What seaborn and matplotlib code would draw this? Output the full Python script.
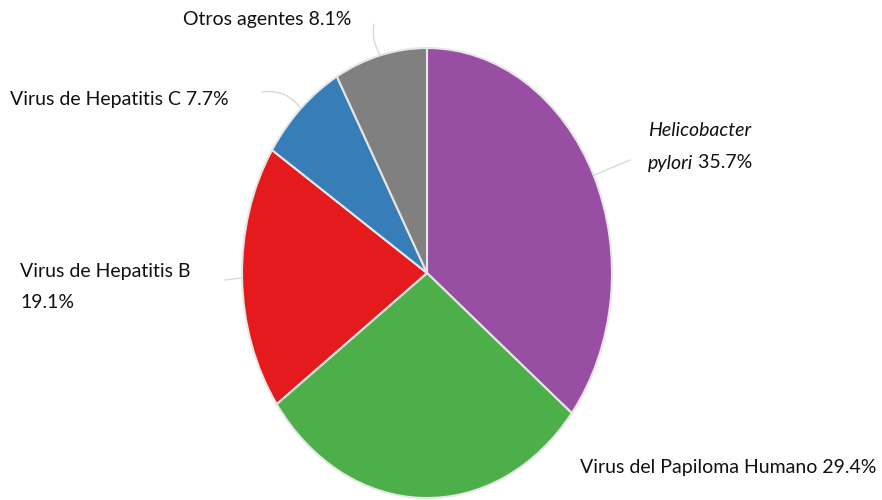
import numpy as np
import matplotlib
matplotlib.use("Agg")
import matplotlib.pyplot as plt
import seaborn as sns

sns.set_theme(style="white")
plt.rcParams['font.family'] = ['Lato', 'DejaVu Sans']

categories = ["Helicobacter pylori", "Virus del Papiloma Humano", "Virus de Hepatitis B",
              "Virus de Hepatitis C", "Otros agentes"]
values = [35.7, 29.4, 19.1, 7.7, 8.1]
colors = ["#984ea3", "#4daf4a", "#e41a1c", "#377eb8", "#808080"]

fig = plt.figure(figsize=(8.82, 5.0), dpi=100)
W, H = 882, 500
CX, CY, RX, RY = 427, 273, 185, 225
# axes exactly covering the (stretched) pie
ax = fig.add_axes([(CX - RX) / W, (H - CY - RY) / H, 2 * RX / W, 2 * RY / H])
wedges, _ = ax.pie(values, colors=colors, startangle=90, counterclock=False,
                   wedgeprops=dict(edgecolor="#e6e6e6", linewidth=1.5))
ax.set_aspect("auto")
ax.set_xlim(-1, 1)
ax.set_ylim(-1, 1)
ax.axis("off")

def px2data(px, py):
    return ((px - CX) / float(RX), (CY - py) / float(RY))

def edge_point(w, r=1.0):
    a = np.deg2rad((w.theta1 + w.theta2) / 2)
    return (r * np.cos(a), r * np.sin(a))

fs = 14
tc = "#111111"
line_kw = dict(arrowstyle="-", color="#d9d9d9", lw=1.0, shrinkA=0, shrinkB=0)

# Helicobacter pylori
ax.annotate("", xy=edge_point(wedges[0]), xytext=px2data(630, 160),
            arrowprops=line_kw, annotation_clip=False)
ax.text(*px2data(648, 130), "Helicobacter", fontsize=fs, style="italic",
        ha="left", va="center", color=tc)
t = ax.text(*px2data(648, 163), "pylori", fontsize=fs, style="italic",
            ha="left", va="center", color=tc)
ax.annotate(" 35.7%", xy=(1, 0), xycoords=t, va="bottom", ha="left",
            fontsize=fs, color=tc)

# VPH
ax.text(*px2data(580, 467), "Virus del Papiloma Humano 29.4%", fontsize=fs,
        ha="left", va="center", color=tc)

# Hep B
ax.annotate("", xy=edge_point(wedges[2]), xytext=px2data(225, 280),
            arrowprops=line_kw, annotation_clip=False)
ax.text(*px2data(20, 271), "Virus de Hepatitis B", fontsize=fs,
        ha="left", va="center", color=tc)
ax.text(*px2data(20, 302), "19.1%", fontsize=fs,
        ha="left", va="center", color=tc)

# Hep C
ax.annotate("", xy=edge_point(wedges[3]), xytext=px2data(262, 92),
            arrowprops=dict(line_kw, connectionstyle="arc3,rad=-0.3"),
            annotation_clip=False)
ax.text(*px2data(10, 100), "Virus de Hepatitis C 7.7%", fontsize=fs,
        ha="left", va="center", color=tc)

# Otros
ax.annotate("", xy=edge_point(wedges[4]), xytext=px2data(374, 24),
            arrowprops=dict(line_kw, connectionstyle="arc3,rad=0.2"),
            annotation_clip=False)
ax.text(*px2data(267, 20), "Otros agentes 8.1%", fontsize=fs,
        ha="center", va="center", color=tc)

fig.savefig("out.png", dpi=100, facecolor="white")
